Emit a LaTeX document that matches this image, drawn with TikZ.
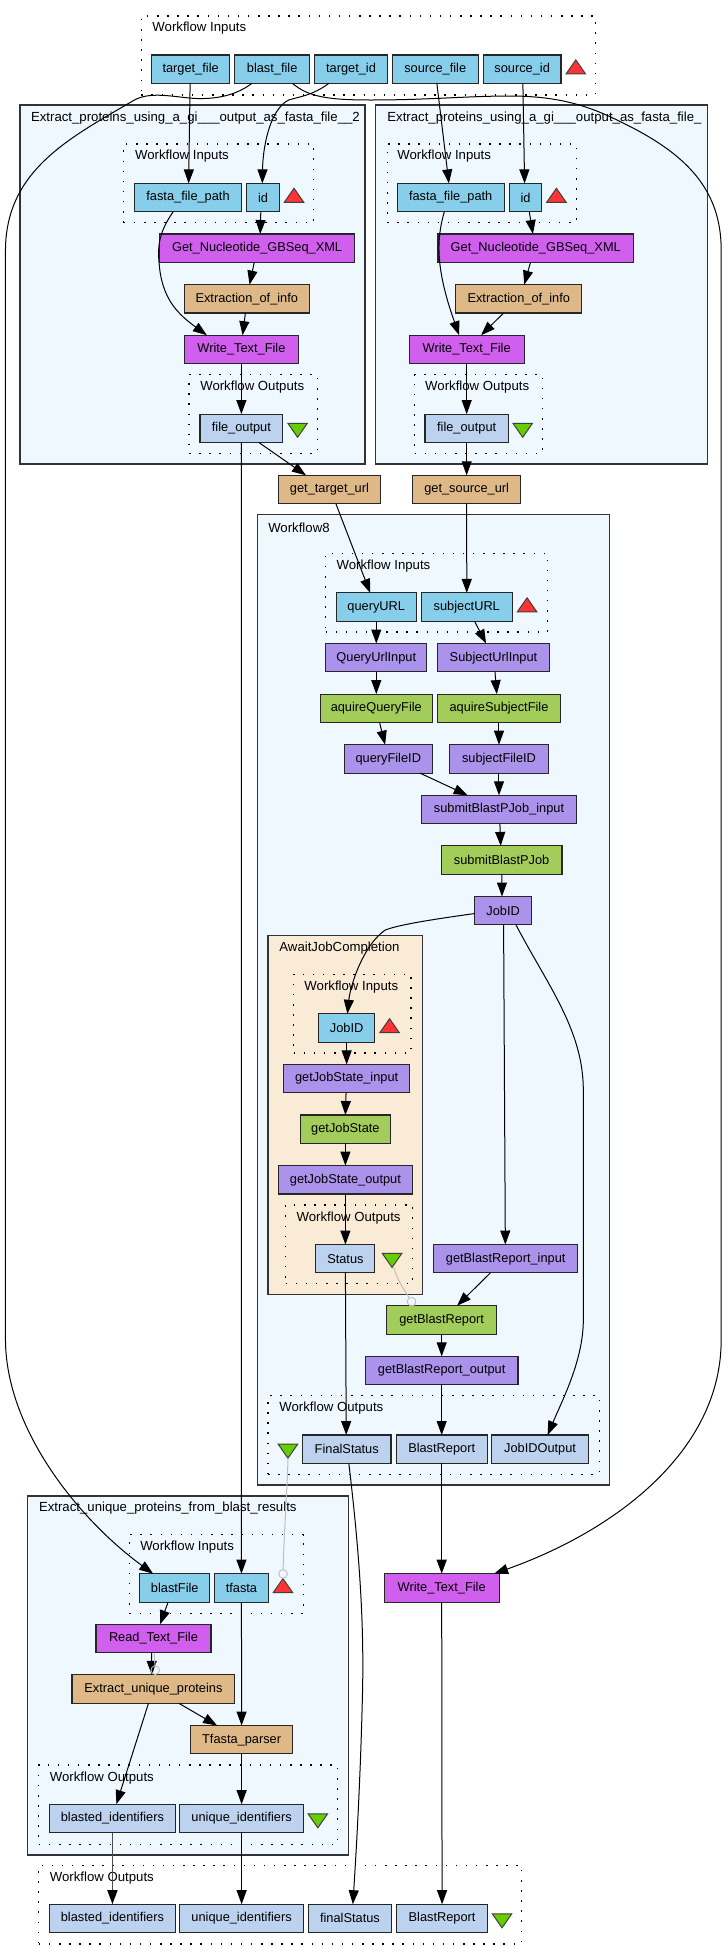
\documentclass[tikz,border=0pt]{standalone}
\usepackage{fontspec}
\setmainfont{Liberation Sans}
\usetikzlibrary{shapes.geometric, arrows.meta, positioning, fit, backgrounds}

\definecolor{inputblue}{HTML}{87CEEB}
\definecolor{outputblue}{HTML}{BCD2EE}
\definecolor{workerpurple}{HTML}{D15FEE}
\definecolor{beantan}{HTML}{DEB887}
\definecolor{xmlviolet}{HTML}{AB92EA}
\definecolor{wsdlgreen}{HTML}{A2CD5A}
\definecolor{groupblue}{HTML}{F0F8FF}
\definecolor{groupcream}{HTML}{FAEBD7}
\definecolor{edgegrey}{HTML}{BEBEBE}
\definecolor{inputred}{HTML}{FF3333}
\definecolor{outputgreen}{HTML}{66CD00}

\begin{document}
\begin{tikzpicture}[
        x=.9954pt, y=1pt,
        node distance=22.2pt,
        boxw/.style={minimum width=#1*.9954pt},
        % Nodes
        wfbox/.style={
                rectangle,
                draw=black!85,
                line width=1.1pt,
                minimum height=28.4pt,
                inner sep=0pt,
                outer sep=0pt,
                font=\fontsize{12.8}{15}\selectfont
            },
        inputbox/.style={wfbox, fill=inputblue},
        outputbox/.style={wfbox, fill=outputblue},
        workerbox/.style={wfbox, fill=workerpurple},
        beanbox/.style={wfbox, fill=beantan},
        xmlbox/.style={wfbox, fill=xmlviolet},
        wsdlbox/.style={wfbox, fill=wsdlgreen},
        % Triangles
        porttri/.style={
                isosceles triangle,
                isosceles triangle stretches,
                shape border rotate=90,
                minimum width=19.5pt,
                minimum height=14pt,
                inner sep=0pt,
                outer sep=0pt,
                anchor=apex,
                draw=black!75,
                line width=1pt
            },
        inputtri/.style={porttri, fill=inputred},
        outputtri/.style={porttri, shape border rotate=-90, fill=outputgreen},
        % Groups
        groupbox/.style={
                rectangle,
                inner sep=0pt,
                outer sep=0pt,
                draw=black!80,
                line width=1.2pt,
                fill=groupblue
            },
        portgroup/.style={
                rectangle,
                inner sep=0pt,
                outer sep=0pt,
                draw=black,
                line width=1.3pt,
                dash pattern=on 1.5pt off 8.6pt
            },
        grouplabel/.style={
                anchor=west,
                inner sep=0pt,
                font=\fontsize{13.2}{15}\selectfont
            },
        % Connectors
        arrow/.style={
                -{Triangle[length=14pt,width=10pt]},
                line width=1pt,
                color=black
            },
        ctrlarrow/.style={
                -{Circle[open,length=9.5pt,width=9.5pt,line width=.9pt]},
                line width=1pt,
                color=edgegrey
            }
    ]

    % Workflow inputs
    \node[inputbox, boxw=78] (targetfile) at (191.5,-69.2) {target\_file};
    \node[inputbox, boxw=75.4, right=5.2pt of targetfile] (blastfile) {blast\_file};
    \node[inputbox, boxw=72.6, right=5.2pt of blastfile] (targetid) {target\_id};
    \node[inputbox, boxw=86.2, right=5.2pt of targetid] (sourcefile) {source\_file};
    \node[inputbox, boxw=78, right=5.2pt of sourcefile] (sourceid) {source\_id};
    \node[inputtri] (triinputs) at ([xshift=14.8pt, yshift=9.3pt]sourceid.east) {};

    % Extract_proteins 2
    \node[inputbox, boxw=107.8] (fastaL) at (188.9,-197.6) {fasta\_file\_path};
    \node[inputbox, boxw=32.5, right=5.2pt of fastaL] (idL) {id};
    \node[inputtri] (triL) at ([xshift=14.8pt, yshift=9.3pt]idL.east) {};
    \node[workerbox, boxw=196.5, below=of fastaL, xshift=69.05pt] (getL) {Get\_Nucleotide\_GBSeq\_XML};
    \node[beanbox, boxw=125.8, below=of getL, xshift=-10.3pt] (extrL) {Extraction\_of\_info};
    \node[workerbox, boxw=115, below=of extrL, xshift=-5.4pt] (writeL) {Write\_Text\_File};
    \node[outputbox, boxw=83.2, below=50.5pt of writeL] (foL) {file\_output};
    \node[outputtri] (trifoL) at ([xshift=14.8pt, yshift=-9pt]foL.east) {};

    % Extract_proteins 1
    \node[inputbox, boxw=107.5] (fastaR) at (452.75,-197.6) {fasta\_file\_path};
    \node[inputbox, boxw=32.4, right=5.2pt of fastaR] (idR) {id};
    \node[inputtri] (triR) at ([xshift=14.8pt, yshift=9.3pt]idR.east) {};
    \node[workerbox, boxw=196.5, below=of fastaR, xshift=85.1pt] (getR) {Get\_Nucleotide\_GBSeq\_XML};
    \node[beanbox, boxw=126.3, below=of getR, xshift=-17pt] (extrR) {Extraction\_of\_info};
    \node[workerbox, boxw=115.6, below=of extrR, xshift=-52.1pt] (writeR) {Write\_Text\_File};
    \node[outputbox, boxw=83.7, below=50.5pt of writeR] (foR) {file\_output};
    \node[outputtri] (trifoR) at ([xshift=14.4pt, yshift=-9pt]foR.east) {};

    \node[beanbox, boxw=102, below=32.8pt of foL, xshift=88.1pt] (gettarget) {get\_target\_url};
    \node[beanbox, boxw=108, below=32.8pt of foR] (getsource) {get\_source\_url};

    % Workflow8
    \node[inputbox, boxw=80, below=89.2pt of gettarget, xshift=46.8pt] (queryurl) {queryURL};
    \node[inputbox, boxw=91.4, right=5.2pt of queryurl] (subjecturl) {subjectURL};
    \node[inputtri] (triurl) at ([xshift=14.8pt, yshift=9.3pt]subjecturl.east) {};
    \node[xmlbox, boxw=101.7, below=of queryurl] (queryinput) {QueryUrlInput};
    \node[xmlbox, boxw=112.6, below=of subjecturl, xshift=26.7pt] (subjectinput) {SubjectUrlInput};
    \node[wsdlbox, boxw=112.8, below=of queryinput] (aquireq) {aquireQueryFile};
    \node[wsdlbox, boxw=123.6, below=of subjectinput, xshift=5.5pt] (aquires) {aquireSubjectFile};
    \node[xmlbox, boxw=88.5, below=of aquireq, xshift=12pt] (queryid) {queryFileID};
    \node[xmlbox, boxw=99.3, below=of aquires] (subjectid) {subjectFileID};
    \node[xmlbox, boxw=155.8, below=of subjectid] (submitinput) {submitBlastPJob\_input};
    \node[wsdlbox, boxw=121.3, below=of submitinput, xshift=2.6pt] (submitjob) {submitBlastPJob};
    \node[xmlbox, boxw=56.8, below=of submitjob, xshift=1.5pt] (jobid) {JobID};

    % AwaitJobCompletion
    \node[inputbox, boxw=56.5] (jobidin) at (348.25,-1028) {JobID};
    \node[inputtri] (trijob) at ([xshift=14.8pt, yshift=9.3pt]jobidin.east) {};
    \node[xmlbox, boxw=126.5, below=of jobidin] (stateinput) {getJobState\_input};
    \node[wsdlbox, boxw=91, below=of stateinput, xshift=-1.25pt] (jobstate) {getJobState};
    \node[xmlbox, boxw=134.3, below=of jobstate] (stateoutput) {getJobState\_output};
    \node[outputbox, boxw=59.2, below=50.5pt of stateoutput] (status) {Status};
    \node[outputtri] (tristatus) at ([xshift=17.2pt, yshift=-8.7pt]status.east) {};

    \node[xmlbox, boxw=144.3, right=59pt of status] (reportinput) {getBlastReport\_input};
    \node[wsdlbox, boxw=110, below=32.8pt of reportinput, xshift=-64pt] (report) {getBlastReport};
    \node[xmlbox, boxw=153.3, below=of report] (reportoutput) {getBlastReport\_output};
    \node[outputbox, boxw=91.3, below=50.3pt of reportoutput] (blastreport) {BlastReport};
    \node[outputbox, boxw=89, left=5.2pt of blastreport] (finalstatus) {FinalStatus};
    \node[outputbox, boxw=97, right=4.7pt of blastreport] (jobidoutput) {JobIDOutput};
    \node[outputtri] (trifinal) at ([xshift=-14.5pt, yshift=-9pt]finalstatus.west) {};

    \node[workerbox, boxw=115.6, below=110.3pt of blastreport] (writeout) {Write\_Text\_File};

    % Extract_unique_proteins
    \node[inputbox, boxw=53.5] (tfasta) at (242.55,-1587.9) {tfasta};
    \node[inputbox, boxw=70, left=5.2pt of tfasta] (blastin) {blastFile};
    \node[inputtri] (tritfasta) at ([xshift=14.9pt, yshift=9.3pt]tfasta.east) {};
    \node[workerbox, boxw=115.5, below=of blastin, xshift=-21.3pt] (readfile) {Read\_Text\_File};
    \node[beanbox, boxw=163.6, below=of readfile] (extractunique) {Extract\_unique\_proteins};
    \node[beanbox, boxw=102.1, below=of extractunique, xshift=88.15pt] (tfastaparser) {Tfasta\_parser};
    \node[outputbox, boxw=124, below=50.3pt of tfastaparser] (uniqueid) {unique\_identifiers};
    \node[outputbox, boxw=126.3, left=4.6pt of uniqueid] (blastedid) {blasted\_identifiers};
    \node[outputtri] (triunique) at ([xshift=14.5pt, yshift=-9.4pt]uniqueid.east) {};

    % Workflow outputs
    \node[outputbox, boxw=126.3, below=71.6pt of blastedid] (blastedout) {blasted\_identifiers};
    \node[outputbox, boxw=124, right=4.6pt of blastedout] (uniqueout) {unique\_identifiers};
    \node[outputbox, boxw=83.4, right=5.1pt of uniqueout] (finalout) {finalStatus};
    \node[outputbox, boxw=91.3, right=5.2pt of finalout] (reportout) {BlastReport};
    \node[outputtri] (triout) at ([xshift=14.5pt, yshift=-9.4pt]reportout.east) {};

    % Groups
    \begin{scope}[on background layer]
        \node[portgroup, fit={(142,-16)(598,-95)}] (gtop) {};
        \node[grouplabel] (ltop) at (153,-28.5) {Workflow Inputs};

        \node[groupbox, fit={(20,-105)(366.7,-464)}] (gextrL) {};
        \node[grouplabel] (lextrL) at (31,-118.5) {Extract\_proteins\_using\_a\_gi\_\_\_output\_as\_fasta\_file\_\_2};
        \node[portgroup, fit={(124.4,-144)(315,-222.7)}] (ginL) {};
        \node[grouplabel] (linL) at (135.6,-156.5) {Workflow Inputs};
        \node[portgroup, fit={(190,-374.7)(318.7,-453.3)}] (goutL) {};
        \node[grouplabel] (loutL) at (201,-387.5) {Workflow Outputs};

        \node[groupbox, fit={(377.5,-105)(710.6,-464)}] (gextrR) {};
        \node[grouplabel] (lextrR) at (389,-118.5) {Extract\_proteins\_using\_a\_gi\_\_\_output\_as\_fasta\_file\_};
        \node[portgroup, fit={(389,-144)(579,-222.7)}] (ginR) {};
        \node[grouplabel] (linR) at (399,-156.5) {Workflow Inputs};
        \node[portgroup, fit={(416.6,-374.7)(545,-453.3)}] (goutR) {};
        \node[grouplabel] (loutR) at (427,-387.5) {Workflow Outputs};

        \node[groupbox, fit={(258.6,-514.3)(612.3,-1485)}] (gflow) {};
        \node[grouplabel] (lflow) at (269.3,-527.5) {Workflow8};
        \node[portgroup, fit={(327,-553.3)(550,-632)}] (ginflow) {};
        \node[grouplabel] (linflow) at (338,-566.5) {Workflow Inputs};
        \node[groupbox, fill=groupcream, fit={(269.3,-935.7)(424.5,-1294.3)}] (gawait) {};
        \node[grouplabel] (lawait) at (280.5,-948.5) {AwaitJobCompletion};
        \node[portgroup, fit={(295,-974.3)(413,-1053)}] (ginawait) {};
        \node[grouplabel] (linawait) at (305.7,-987.5) {Workflow Inputs};
        \node[portgroup, fit={(287,-1205)(414.7,-1283.7)}] (goutawait) {};
        \node[grouplabel] (loutawait) at (297.8,-1218.5) {Workflow Outputs};
        \node[portgroup, fit={(269.3,-1395.7)(602,-1474.3)}] (goutflow) {};
        \node[grouplabel] (loutflow) at (280.5,-1408.5) {Workflow Outputs};

        \node[groupbox, fit={(28,-1496)(350,-1855)}] (gunique) {};
        \node[grouplabel] (lunique) at (39,-1508.5) {Extract\_unique\_proteins\_from\_blast\_results};
        \node[portgroup, fit={(130,-1534.7)(304.8,-1613.3)}] (ginunique) {};
        \node[grouplabel] (linunique) at (140.7,-1547.5) {Workflow Inputs};
        \node[portgroup, fit={(39,-1765)(339.2,-1844.3)}] (goutunique) {};
        \node[grouplabel] (loutunique) at (49.9,-1778.5) {Workflow Outputs};

        \node[portgroup, fit={(39,-1865.3)(524.2,-1944)}] (gbottom) {};
        \node[grouplabel] (lbottom) at (49.9,-1878.5) {Workflow Outputs};
    \end{scope}

    % Connectors out of the workflow inputs
    \draw[arrow] ([xshift=-.5pt]targetfile.south) -- ([xshift=.6pt]fastaL.north);
    \draw[arrow] ([xshift=-20.3pt]blastfile.south) .. controls (235,-97) and (212,-100) .. (190,-98)
        .. controls (170,-96) and (150,-92) .. (135,-100)
        .. controls (70,-138) and (6,-170) .. (5.5,-250) -- (5.5,-1340)
        .. controls (6,-1430) and (80,-1520) .. ([xshift=-21.65pt]blastin.north);
    \draw[arrow] ([xshift=20.3pt]blastfile.south) .. controls (310,-97) and (330,-100) .. (373,-100)
        .. controls (430,-100) and (470,-96) .. (512,-96)
        .. controls (570,-96) and (600,-110) .. (630,-125)
        .. controls (690,-155) and (724.5,-190) .. (724.5,-250) -- (724.5,-1340)
        .. controls (724.5,-1450) and (620,-1530) .. ([xshift=52.4pt]writeout.north);
    \draw[arrow] ([xshift=-22.3pt]targetid.south) .. controls (315,-95) and (300,-97) .. (290,-100)
        .. controls (270,-110) and (264,-150) .. ([xshift=-.75pt]idL.north);
    \draw[arrow] ([xshift=1.6pt]sourcefile.south) -- ([xshift=-1.75pt]fastaR.north);
    \draw[arrow] ([xshift=.7pt]sourceid.south) -- ([xshift=-.9pt]idR.north);

    % Extract_proteins 2
    \draw[arrow] ([xshift=-14.9pt]fastaL.south) .. controls (160,-232) and (158,-245) .. (160,-265)
        .. controls (163,-300) and (180,-315) .. ([xshift=-34.5pt]writeL.north);
    \draw[arrow] ([xshift=-2.25pt]idL.south) -- ([xshift=3.15pt]getL.north);
    \draw[arrow] ([xshift=-2.85pt]getL.south) -- ([xshift=2.8pt]extrL.north);
    \draw[arrow] ([xshift=-1.4pt]extrL.south) -- ([xshift=1.2pt]writeL.north);
    \draw[arrow] (writeL) -- (foL);
    \draw[arrow] ([xshift=17.5pt]foL.south) -- ([xshift=-23.5pt]gettarget.north);
    \draw[arrow] (foL.south) -- (tfasta.north);

    % Extract_proteins 1
    \draw[arrow] ([xshift=-6.35pt]fastaR.south) .. controls (438,-240) and (438,-270) .. ([xshift=-7.5pt]writeR.north);
    \draw[arrow] ([xshift=3.8pt]idR.south) -- ([xshift=-2.85pt]getR.north);
    \draw[arrow] ([xshift=-5.25pt]getR.south) -- ([xshift=5.45pt]extrR.north);
    \draw[arrow] ([xshift=-15.15pt]extrR.south) -- ([xshift=14.4pt]writeR.north);
    \draw[arrow] (writeR) -- (foR);
    \draw[arrow] (foR) -- (getsource);

    % Workflow8
    \draw[arrow] ([xshift=6.4pt]gettarget.south) -- ([xshift=-6.1pt]queryurl.north);
    \draw[arrow] (getsource) -- (subjecturl);
    \draw[arrow] (queryurl) -- (queryinput);
    \draw[arrow] ([xshift=7.8pt]subjecturl.south) -- ([xshift=-7.4pt]subjectinput.north);
    \draw[arrow] (queryinput) -- (aquireq);
    \draw[arrow] ([xshift=1.5pt]subjectinput.south) -- ([xshift=-2.2pt]aquires.north);
    \draw[arrow] ([xshift=3.3pt]aquireq.south) -- ([xshift=-3.2pt]queryid.north);
    \draw[arrow] (aquires) -- (subjectid);
    \draw[arrow] ([xshift=31.7pt]queryid.south) -- ([xshift=-31.3pt]submitinput.north);
    \draw[arrow] (subjectid) -- (submitinput);
    \draw[arrow] ([xshift=.9pt]submitinput.south) -- ([xshift=-.85pt]submitjob.north);
    \draw[arrow] ([xshift=.35pt]submitjob.south) -- ([xshift=-1.1pt]jobid.north);
    \draw[arrow] ([yshift=-2.8pt]jobid.west) .. controls (430,-920) and (400,-925) .. (387,-930)
        .. controls (365,-945) and (352,-985) .. ([xshift=.75pt]jobidin.north);
    \draw[arrow] ([xshift=.5pt]jobid.south) -- ([xshift=-.35pt]reportinput.north);
    \draw[arrow] ([xshift=12.9pt]jobid.south) .. controls (550,-985) and (586,-1030) .. (586,-1090) -- (586,-1320)
        .. controls (586,-1360) and (565,-1400) .. ([xshift=7.5pt]jobidoutput.north);

    % AwaitJobCompletion
    \draw[arrow] (jobidin) -- (stateinput);
    \draw[arrow] ([xshift=-.6pt]stateinput.south) -- (jobstate.north);
    \draw[arrow] (jobstate) -- (stateoutput);
    \draw[arrow] (stateoutput) -- (status);
    \draw[arrow] (status.south) -- ([xshift=-.5pt]finalstatus.north);
    \draw[arrow] ([xshift=2.1pt]finalstatus.south) .. controls (362,-1560) and (366,-1630) .. (364,-1700)
        .. controls (362,-1780) and (358,-1850) .. ([xshift=2.9pt]finalout.north);
    \draw[arrow] ([xshift=-15.35pt]reportinput.south) -- ([xshift=15.4pt]report.north);
    \draw[arrow] (report) -- (reportoutput);
    \draw[arrow] (reportoutput) -- (blastreport);
    \draw[arrow] (blastreport) -- (writeout);
    \draw[arrow] (writeout) -- (reportout);
    \draw[ctrlarrow] ([xshift=1.8pt]tristatus.apex) .. controls (398,-1278) and (405,-1288) .. ([xshift=-27.6pt]report.north);
    \draw[ctrlarrow] (trifinal.apex) .. controls (289,-1480) and (285,-1540) .. (tritfasta.apex);

    % Extract_unique_proteins
    \draw[arrow] ([xshift=-6.65pt]blastin.south) -- ([xshift=6.55pt]readfile.north);
    \draw[arrow] ([xshift=-1.85pt]readfile.south) -- ([xshift=-1.6pt]extractunique.north);
    \draw[ctrlarrow] ([xshift=.75pt]readfile.south) -- ([xshift=2pt]extractunique.north);
    \draw[arrow] (tfasta) -- (tfastaparser);
    \draw[arrow] ([xshift=25.4pt]extractunique.south) -- ([xshift=-24.55pt]tfastaparser.north);
    \draw[arrow] ([xshift=-5pt]extractunique.south) -- ([xshift=3.95pt]blastedid.north);
    \draw[arrow] (tfastaparser) -- (uniqueid);
    \draw[arrow, line width=1.6pt, color=black!70, -{Triangle[length=14pt,width=10pt,black]}] (blastedid) -- (blastedout);
    \draw[arrow] (uniqueid) -- (uniqueout);

    \useasboundingbox (0,0) rectangle (730.36,-1960);
\end{tikzpicture}
\end{document}
